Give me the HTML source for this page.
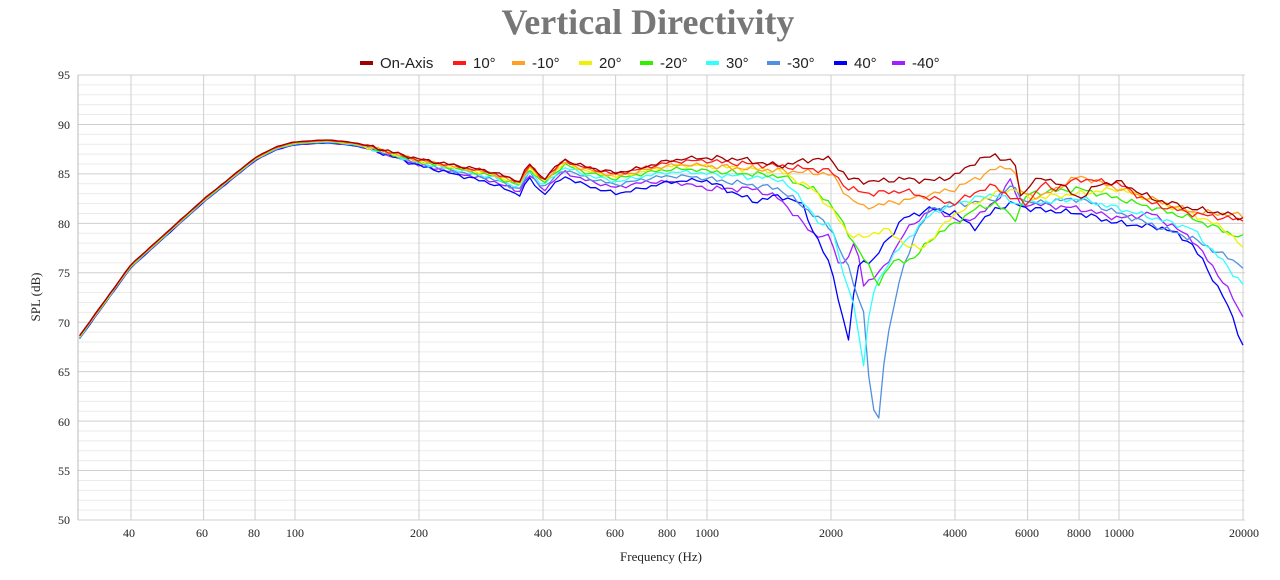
<!DOCTYPE html>
<html><head><meta charset="utf-8"><style>
body{margin:0;background:#fff;width:1280px;height:580px;overflow:hidden}
svg{display:block}
text{font-family:"Liberation Serif",serif;font-size:12px;fill:#222}
.lg{font-family:"Liberation Sans",sans-serif;font-size:15px;fill:#222}
</style></head><body>
<svg id="s" width="1280" height="580" xmlns="http://www.w3.org/2000/svg">
<text x="648" y="34" text-anchor="middle" style="font-size:36px;font-weight:bold;fill:#777">Vertical Directivity</text>
<g id="grid"></g>
<g text-anchor="end">
<text x="70" y="79">95</text><text x="70" y="129">90</text><text x="70" y="178">85</text><text x="70" y="228">80</text><text x="70" y="277">75</text><text x="70" y="327">70</text><text x="70" y="376">65</text><text x="70" y="426">60</text><text x="70" y="475">55</text><text x="70" y="524">50</text>
</g>
<g text-anchor="middle">
<text x="129" y="537">40</text><text x="202" y="537">60</text><text x="254" y="537">80</text><text x="295" y="537">100</text><text x="419" y="537">200</text><text x="543" y="537">400</text><text x="615" y="537">600</text><text x="667" y="537">800</text><text x="707" y="537">1000</text><text x="831" y="537">2000</text><text x="955" y="537">4000</text><text x="1027" y="537">6000</text><text x="1079" y="537">8000</text><text x="1119" y="537">10000</text><text x="1244" y="537">20000</text>
<text x="661" y="561" style="font-size:13px">Frequency (Hz)</text>
<text transform="translate(40,297) rotate(-90)" style="font-size:13px">SPL (dB)</text>
</g>
<g id="lines"></g>
<g class="lg">
<rect x="360" y="61" width="13" height="4" fill="#a00000"/><text class="lg" x="380" y="68">On-Axis</text>
<rect x="453" y="61" width="13" height="4" fill="#ff1a1a"/><text class="lg" x="473" y="68">10°</text>
<rect x="512" y="61" width="13" height="4" fill="#ffa020"/><text class="lg" x="532" y="68">-10°</text>
<rect x="579" y="61" width="13" height="4" fill="#f0f000"/><text class="lg" x="599" y="68">20°</text>
<rect x="640" y="61" width="13" height="4" fill="#30f000"/><text class="lg" x="660" y="68">-20°</text>
<rect x="706" y="61" width="13" height="4" fill="#30ffff"/><text class="lg" x="726" y="68">30°</text>
<rect x="767" y="61" width="13" height="4" fill="#5090e0"/><text class="lg" x="787" y="68">-30°</text>
<rect x="834" y="61" width="13" height="4" fill="#0000ff"/><text class="lg" x="854" y="68">40°</text>
<rect x="892" y="61" width="13" height="4" fill="#a020ff"/><text class="lg" x="912" y="68">-40°</text>
</g>
</svg>
<script>
const X=f=>295+412*(Math.log10(f)-2), Y=d=>75+(95-d)*9.889;
let g="";
for(let d=50;d<=95;d++){const y=Y(d);g+=`<line x1="78" x2="1245" y1="${y}" y2="${y}" stroke="${d%5?'#ebebeb':'#cfcfcf'}" stroke-width="1"/>`;}
[40,60,80,100,200,400,600,800,1000,2000,4000,6000,8000,10000,20000].forEach(f=>{const x=X(f);g+=`<line x1="${x}" x2="${x}" y1="75" y2="520" stroke="#cfcfcf"/>`});
g+=`<line x1="78" x2="78" y1="75" y2="520" stroke="#bbb"/>`;
document.getElementById("grid").innerHTML=g;
const base=[[30,68.5],[40,75.7],[60,82.3],[80,86.5],[90,87.6],[100,88.1],[120,88.3],[140,88.0],[160,87.4],[200,86.3],[250,85.6],[300,85.0],[350,84.0],[370,85.8],[400,84.2],[450,86.2],[500,85.5],[600,84.8],[800,85.8],[1000,86.5]];
const S=[
["#a00000",0.3,[[1000,86.6],[1200,86.5],[1500,85.8],[1800,86.5],[2000,86.5],[2200,84.5],[2500,84.2],[3000,84.5],[3500,84.3],[4000,84.8],[4500,86.3],[5000,86.9],[5600,86.0],[5800,82.0],[6000,84.0],[6500,84.5],[7000,84.3],[8000,82.5],[9000,84.0],[10000,84.2],[12000,82.5],[15000,81.5],[18000,81.0],[20000,80.5]]],
["#ff1a1a",0.2,[[1000,86.3],[1500,85.8],[2000,85.3],[2200,83.5],[2500,83.0],[3000,83.3],[3500,82.5],[4000,82.0],[4500,83.2],[5000,83.8],[5500,82.5],[6000,82.0],[6500,84.0],[7000,83.5],[8000,84.5],[10000,84.0],[12000,82.0],[15000,81.0],[20000,80.3]]],
["#ffa020",0,[[1000,85.8],[2000,85.0],[2200,82.7],[2400,81.6],[3000,82.3],[4000,83.5],[5000,85.5],[5500,85.8],[5800,83.0],[6500,82.7],[8000,84.8],[10000,83.5],[15000,81.2],[20000,80.8]]],
["#f0f000",-0.1,[[1000,85.8],[1500,85.3],[1800,83.5],[2000,81.5],[2200,79.0],[2400,78.5],[2700,79.5],[3000,78.0],[3300,77.3],[4000,81.0],[5000,83.0],[5600,83.5],[6000,82.5],[8000,83.0],[10000,83.5],[15000,81.0],[18000,79.5],[20000,77.5]]],
["#30f000",-0.3,[[1000,85.3],[1500,84.8],[1800,83.5],[2000,82.0],[2200,79.0],[2400,76.5],[2600,73.8],[2800,76.0],[3200,76.5],[3500,78.5],[4000,80.0],[4500,81.5],[5000,82.0],[5600,80.5],[6000,83.0],[8000,83.5],[10000,82.5],[15000,80.5],[20000,78.5]]],
["#30ffff",-0.6,[[1000,85.0],[1500,84.5],[1700,82.5],[1900,79.5],[2000,80.5],[2100,76.0],[2300,71.0],[2400,65.5],[2500,72.5],[2700,75.5],[3000,78.0],[3500,81.0],[4000,82.0],[5000,83.0],[5600,82.0],[6000,82.0],[8000,82.5],[10000,81.5],[15000,79.5],[18000,76.0],[20000,73.8]]],
["#5090e0",-0.9,[[1000,84.5],[1500,83.5],[1800,81.0],[2000,79.5],[2200,75.5],[2400,71.0],[2500,62.0],[2600,59.2],[2700,67.0],[2900,73.5],[3200,79.0],[3500,81.5],[4000,81.8],[5000,82.5],[5500,83.8],[6000,82.0],[8000,82.5],[10000,81.0],[15000,78.5],[20000,75.7]]],
["#0000ff",-1.8,[[1000,84.3],[1300,82.2],[1500,82.8],[1700,82.0],[1800,79.5],[2000,75.5],[2100,72.0],[2200,67.8],[2300,75.0],[2400,76.5],[2500,75.8],[2700,78.0],[3000,80.5],[3500,81.5],[4000,81.0],[4500,79.5],[5000,81.5],[5600,82.0],[6000,81.5],[8000,81.0],[10000,80.0],[13000,79.5],[15000,78.0],[18000,72.5],[20000,67.7]]],
["#a020ff",-1.2,[[1000,83.5],[1300,83.5],[1500,82.5],[1800,79.0],[2000,78.5],[2100,75.5],[2300,78.0],[2400,73.8],[2700,75.5],[3000,79.0],[3500,81.5],[4000,80.5],[4200,80.0],[5000,82.0],[5500,84.8],[5700,81.5],[6000,82.0],[8000,81.5],[10000,80.5],[12000,81.0],[15000,78.5],[18000,74.0],[20000,70.5]]]];
function interp(pts,f){const l=Math.log10(f);for(let i=0;i<pts.length-1;i++){const a=Math.log10(pts[i][0]),b=Math.log10(pts[i+1][0]);if(l>=a&&l<=b){const t=(l-a)/(b-a);return pts[i][1]*(1-t)+pts[i+1][1]*t;}}return pts[pts.length-1][1];}
let h="";const N=230;
S.slice().reverse().forEach((s,ri)=>{const idx=S.length-1-ri;let d="";
for(let i=0;i<=N;i++){const f=30*Math.pow(20000/30,i/N);let v;
if(f<=1000){const r=Math.min(1,Math.max(0,(Math.log10(f)-2.18)/(2.78-2.18)));v=interp(base,f)+s[1]*r+(0.15-idx*0.04)*(1-r);
 if(f>700){const t=(Math.log10(f)-Math.log10(700))/(3-Math.log10(700));v=v*(1-t)+s[2][0][1]*t;}}
else v=interp(s[2],f);
const amp=f<150?0.03:(f<1000?0.22:0.35);
v+=amp*(Math.sin(i*2.3+idx*1.7)*0.6+Math.sin(i*5.1+idx*0.9)*0.4);
d+=(i?"L":"M")+X(f).toFixed(1)+","+Y(v).toFixed(1);}
h+=`<path d="${d}" fill="none" stroke="${s[0]}" stroke-width="1.3" stroke-linejoin="round"/>`;});
document.getElementById("lines").innerHTML=h;
</script>
</body></html>
